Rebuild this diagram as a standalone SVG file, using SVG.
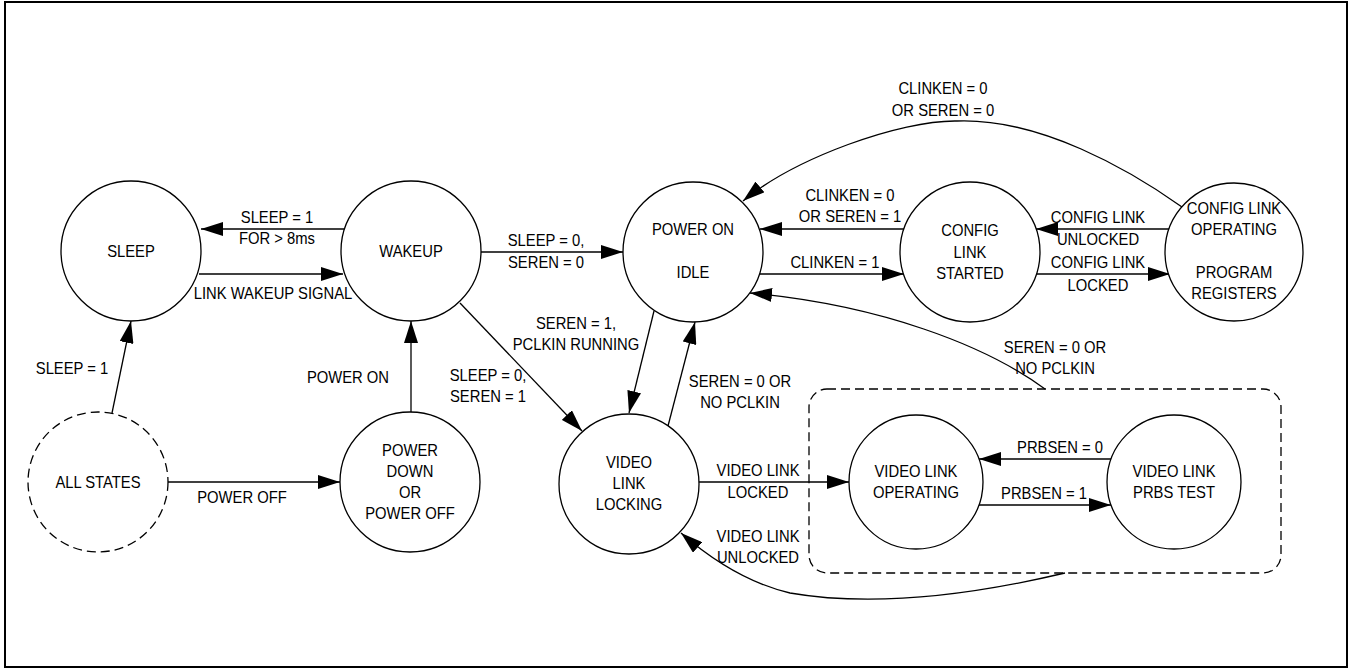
<svg xmlns="http://www.w3.org/2000/svg" width="1350" height="669" viewBox="0 0 1350 669">
<style>
.bg{fill:#fff}
.frame{fill:none;stroke:#000;stroke-width:2}
.st{fill:#fff;stroke:#000;stroke-width:1.3}
.dash{fill:none;stroke:#000;stroke-width:1.3;stroke-dasharray:9 5}
.c{fill:none;stroke:#000;stroke-width:1.3;marker-end:url(#ah)}
text{font-family:"Liberation Sans",Arial,sans-serif;font-size:17px;fill:#000;text-anchor:middle;transform-box:fill-box;transform-origin:center;transform:scaleX(0.87)}
</style>
<defs>
<marker id="ah" markerUnits="userSpaceOnUse" markerWidth="24" markerHeight="14" refX="22" refY="7" orient="auto">
<path d="M0,0 L22,7 L0,14 z" fill="#000"/>
</marker>
</defs>
<rect class="bg" x="0" y="0" width="1350" height="669"/>
<rect class="frame" x="5" y="2" width="1342" height="665"/>

<g id="group-video">
<rect class="dash" x="809" y="389" width="472" height="184" rx="18" ry="18"/>
</g>

<g id="connectors">
<line class="c" x1="344" y1="229" x2="201" y2="229"/>
<line class="c" x1="199" y1="274" x2="343" y2="274"/>
<line class="c" x1="112" y1="413" x2="131" y2="321"/>
<line class="c" x1="411" y1="412" x2="411" y2="321"/>
<line class="c" x1="168" y1="482" x2="340" y2="482"/>
<line class="c" x1="481" y1="252" x2="623" y2="252"/>
<line class="c" x1="460" y1="303" x2="582" y2="431"/>
<line class="c" x1="654" y1="311" x2="629" y2="413"/>
<line class="c" x1="668" y1="426" x2="695" y2="322"/>
<line class="c" x1="699" y1="482" x2="849" y2="482"/>
<path class="c" d="M1065,573 Q900,612 790,593 Q735,580 681,533"/>
<line class="c" x1="1111" y1="459" x2="979" y2="459"/>
<line class="c" x1="979" y1="505" x2="1111" y2="505"/>
<path class="c" d="M1045,389 C985,345 880,305 750,293"/>
<line class="c" x1="904" y1="229" x2="760" y2="229"/>
<line class="c" x1="759" y1="274" x2="904" y2="274"/>
<line class="c" x1="1170" y1="229" x2="1036" y2="229"/>
<line class="c" x1="1036" y1="274" x2="1170" y2="274"/>
<path class="c" d="M1182,207 C1130,170 1040,118 957,121 C900,120 795,158 743,201"/>
</g>

<g id="labels">
<text x="277" y="223">SLEEP = 1</text>
<text x="277" y="244">FOR &gt; 8ms</text>
<text x="273" y="299">LINK WAKEUP SIGNAL</text>
<text x="72" y="374">SLEEP = 1</text>
<text x="348" y="383">POWER ON</text>
<text x="242" y="503">POWER OFF</text>
<text x="546" y="246">SLEEP = 0,</text>
<text x="546" y="268">SEREN = 0</text>
<text x="488" y="381">SLEEP = 0,</text>
<text x="488" y="402">SEREN = 1</text>
<text x="576" y="329">SEREN = 1,</text>
<text x="576" y="350">PCLKIN RUNNING</text>
<text x="740" y="387">SEREN = 0 OR</text>
<text x="740" y="408">NO PCLKIN</text>
<text x="758" y="476">VIDEO LINK</text>
<text x="758" y="498">LOCKED</text>
<text x="758" y="542">VIDEO LINK</text>
<text x="758" y="563">UNLOCKED</text>
<text x="1060" y="453">PRBSEN = 0</text>
<text x="1044" y="499">PRBSEN = 1</text>
<text x="1055" y="353">SEREN = 0 OR</text>
<text x="1055" y="374">NO PCLKIN</text>
<text x="850" y="201">CLINKEN = 0</text>
<text x="850" y="222">OR SEREN = 1</text>
<text x="835" y="268">CLINKEN = 1</text>
<text x="1098" y="223">CONFIG LINK</text>
<text x="1098" y="245">UNLOCKED</text>
<text x="1098" y="268">CONFIG LINK</text>
<text x="1098" y="291">LOCKED</text>
<text x="943" y="94">CLINKEN = 0</text>
<text x="943" y="116">OR SEREN = 0</text>
</g>

<g id="sleep"><circle class="st" cx="131" cy="251" r="70"/><text x="131" y="257">SLEEP</text></g>
<g id="wakeup"><circle class="st" cx="411" cy="251" r="70"/><text x="411" y="257">WAKEUP</text></g>
<g id="all-states"><circle class="dash" cx="98" cy="482" r="70"/><text x="98" y="488">ALL STATES</text></g>
<g id="power-down"><circle class="st" cx="410" cy="482" r="70"/><text x="410" y="456">POWER<tspan x="410" dy="21">DOWN</tspan><tspan x="410" dy="21">OR</tspan><tspan x="410" dy="21">POWER OFF</tspan></text></g>
<g id="power-on-idle"><circle class="st" cx="693" cy="252" r="70"/><text x="693" y="235">POWER ON<tspan x="693" dy="43">IDLE</tspan></text></g>
<g id="video-link-locking"><circle class="st" cx="629" cy="484" r="70"/><text x="629" y="468">VIDEO<tspan x="629" dy="21">LINK</tspan><tspan x="629" dy="21">LOCKING</tspan></text></g>
<g id="config-link-started"><circle class="st" cx="970" cy="252" r="70"/><text x="970" y="236">CONFIG<tspan x="970" dy="22">LINK</tspan><tspan x="970" dy="21">STARTED</tspan></text></g>
<g id="config-link-operating"><circle class="st" cx="1234" cy="252" r="69"/><text x="1234" y="214">CONFIG LINK<tspan x="1234" dy="21">OPERATING</tspan><tspan x="1234" dy="43">PROGRAM</tspan><tspan x="1234" dy="21">REGISTERS</tspan></text></g>
<g id="video-link-operating"><circle class="st" cx="916" cy="482" r="67"/><text x="916" y="477">VIDEO LINK<tspan x="916" dy="21">OPERATING</tspan></text></g>
<g id="video-link-prbs-test"><circle class="st" cx="1174" cy="482" r="67"/><text x="1174" y="477">VIDEO LINK<tspan x="1174" dy="21">PRBS TEST</tspan></text></g>
</svg>
